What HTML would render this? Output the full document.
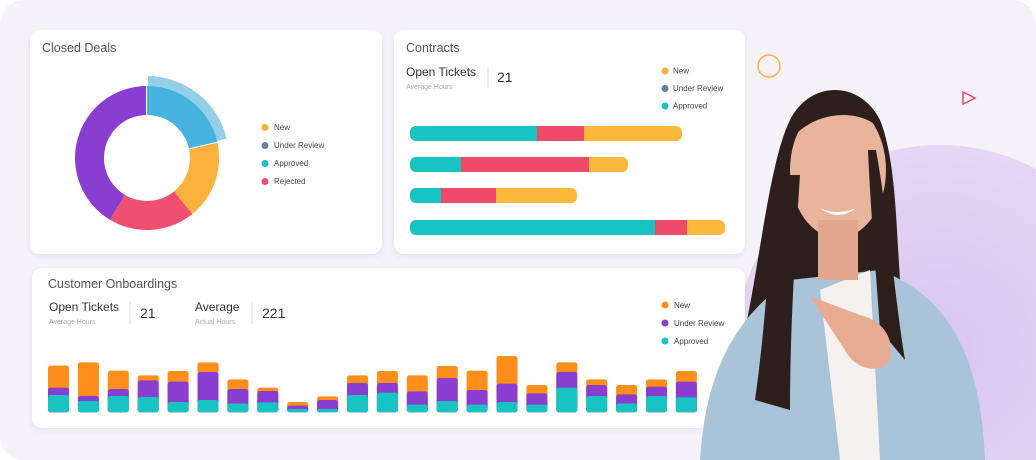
<!DOCTYPE html>
<html><head><meta charset="utf-8"><style>
html,body{margin:0;padding:0;width:1036px;height:460px;overflow:hidden;background:#fff;font-family:"Liberation Sans",sans-serif}
svg{display:block}
</style></head><body>
<svg width="1036" height="460" viewBox="0 0 1036 460" xmlns="http://www.w3.org/2000/svg" font-family="Liberation Sans, sans-serif">
<defs>
<filter id="sh" x="-10%" y="-10%" width="120%" height="130%"><feDropShadow dx="0" dy="2" stdDeviation="3" flood-color="#b8a8d0" flood-opacity="0.25"/></filter>
<radialGradient id="blob" cx="0.5" cy="0.5" r="0.5"><stop offset="0" stop-color="#d9c6ef"/><stop offset="1" stop-color="#e4d6f4"/></radialGradient>
</defs>
<rect x="0" y="0" width="1036" height="460" rx="24" fill="#f5f2fa"/>
<circle cx="940" cy="350" r="205" fill="url(#blob)"/>
<circle cx="769" cy="66" r="11" fill="none" stroke="#fbb13c" stroke-width="1.5"/>
<path d="M963 92 L975 98 L963 104 Z" fill="none" stroke="#ee4b6a" stroke-width="1.5"/>

<!-- Closed Deals -->
<rect x="30" y="30" width="352" height="224" rx="10" fill="#fff" filter="url(#sh)"/>
<text x="42" y="52" font-size="12.5" fill="#555">Closed Deals</text>
<g transform="translate(147,158)">
<path d="M70.2,-16.2 A72,72 0 0 1 45.3,56 L27,33.4 A43,43 0 0 0 41.9,-9.7 Z" fill="#fbb13c"/>
<path d="M45.3,56 A72,72 0 0 1 -37.1,61.7 L-22.1,36.9 A43,43 0 0 0 27,33.4 Z" fill="#ef5070"/>
<path d="M-37.1,61.7 A72,72 0 0 1 0,-72 L0,-43 A43,43 0 0 0 -22.1,36.9 Z" fill="#8a3dd1"/>
<path d="M0,-83 A83,83 0 0 1 80.9,-18.7 L41.9,-9.7 A43,43 0 0 0 0,-43 Z" fill="#93cfe8" stroke="#fff" stroke-width="2"/>
<path d="M0,-72 A72,72 0 0 1 70.2,-16.2 L41.9,-9.7 A43,43 0 0 0 0,-43 Z" fill="#44b3e0"/>
</g>
<g font-size="8" fill="#444">
<circle cx="265" cy="127.5" r="3.5" fill="#fbb13c"/><text x="274" y="130">New</text>
<circle cx="265" cy="145.5" r="3.5" fill="#6b7f98"/><text x="274" y="148">Under Review</text>
<circle cx="265" cy="163.5" r="3.5" fill="#17c3c3"/><text x="274" y="166">Approved</text>
<circle cx="265" cy="181.5" r="3.5" fill="#ef5070"/><text x="274" y="184">Rejected</text>
</g>

<!-- Contracts -->
<rect x="394" y="30" width="351" height="224" rx="10" fill="#fff" filter="url(#sh)"/>
<text x="406" y="52" font-size="12.5" fill="#555">Contracts</text>
<text x="406" y="76" font-size="12" fill="#333">Open Tickets</text>
<text x="406" y="89" font-size="7" fill="#aaa">Average Hours</text>
<line x1="488" y1="67" x2="488" y2="88" stroke="#ddd"/>
<text x="497" y="82" font-size="14" fill="#333">21</text>
<g font-size="8" fill="#444">
<circle cx="665" cy="71" r="3.5" fill="#fbb13c"/><text x="673" y="73.5">New</text>
<circle cx="665" cy="88.5" r="3.5" fill="#6b7f98"/><text x="673" y="91">Under Review</text>
<circle cx="665" cy="106" r="3.5" fill="#17c3c3"/><text x="673" y="108.5">Approved</text>
</g>
<g>
<rect x="410" y="126" width="272" height="15" rx="6" fill="#fbb93c"/><rect x="537" y="126" width="47" height="15" fill="#ee4b6a"/><rect x="410" y="126" width="127" height="15" rx="6" fill="#17c3c3"/><rect x="530" y="126" width="7" height="15" fill="#17c3c3"/>
<rect x="410" y="157" width="218" height="15" rx="6" fill="#fbb93c"/><rect x="461" y="157" width="128" height="15" fill="#ee4b6a"/><rect x="410" y="157" width="51" height="15" rx="6" fill="#17c3c3"/><rect x="455" y="157" width="6" height="15" fill="#17c3c3"/>
<rect x="410" y="188" width="167" height="15" rx="6" fill="#fbb93c"/><rect x="441" y="188" width="55" height="15" fill="#ee4b6a"/><rect x="410" y="188" width="31" height="15" rx="6" fill="#17c3c3"/><rect x="435" y="188" width="6" height="15" fill="#17c3c3"/>
<rect x="410" y="220" width="315" height="15" rx="6" fill="#fbb93c"/><rect x="655" y="220" width="32" height="15" fill="#ee4b6a"/><rect x="410" y="220" width="245" height="15" rx="6" fill="#17c3c3"/><rect x="645" y="220" width="10" height="15" fill="#17c3c3"/>
</g>

<!-- Customer Onboardings -->
<rect x="32" y="268" width="713" height="160" rx="10" fill="#fff" filter="url(#sh)"/>
<text x="48" y="288" font-size="12.5" fill="#555">Customer Onboardings</text>
<text x="49" y="311" font-size="12" fill="#333">Open Tickets</text>
<text x="49" y="324" font-size="7" fill="#aaa">Average Hours</text>
<line x1="130" y1="302" x2="130" y2="324" stroke="#ddd"/>
<text x="140" y="318" font-size="14" fill="#333">21</text>
<text x="195" y="311" font-size="12" fill="#333">Average</text>
<text x="195" y="324" font-size="7" fill="#aaa">Actual Hours</text>
<line x1="252" y1="302" x2="252" y2="324" stroke="#ddd"/>
<text x="262" y="318" font-size="14" fill="#333">221</text>
<g font-size="8" fill="#444">
<circle cx="665" cy="305" r="3.5" fill="#ff8f1a"/><text x="674" y="308">New</text>
<circle cx="665" cy="323" r="3.5" fill="#8a3dd1"/><text x="674" y="326">Under Review</text>
<circle cx="665" cy="341" r="3.5" fill="#17c3c3"/><text x="674" y="344">Approved</text>
</g>
<g id="bars"></g>

<!-- Woman approximation -->
<g>
<path d="M790 120 C770 160 760 260 745 330 C735 380 725 420 730 460 L920 460 L905 330 C895 260 900 170 880 120 C860 80 810 80 790 120 Z" fill="#2d1f1b"/>
<path d="M700 460 C705 380 730 320 790 280 L880 270 C930 290 980 330 985 460 Z" fill="#a9c4d8"/>
<path d="M820 290 L870 270 L880 460 L840 460 Z" fill="#f4f1ee"/>
<ellipse cx="838" cy="170" rx="48" ry="68" fill="#e9b49c"/>
<path d="M790 130 C800 90 870 85 885 135 C870 110 820 105 790 140 Z" fill="#2d1f1b"/>
<rect x="818" y="220" width="40" height="60" fill="#e2a78e"/>
<path d="M775 175 C770 250 765 330 755 400 L790 410 C790 330 795 250 800 175 Z" fill="#2d1f1b"/>
<path d="M876 150 C890 230 895 300 905 360 L880 330 C875 260 870 200 868 150 Z" fill="#2d1f1b"/>
<path d="M812 297 L860 315 C880 320 895 335 890 360 C880 375 855 370 845 350 L812 300 Z" fill="#e6ab90"/>
<path d="M820 208 Q838 222 856 208 Q838 216 820 208 Z" fill="#fff"/>
</g>
</svg>
<script>
var d=[[77,143,165],[67,168,183],[92,147,168],[106,121,171],[93,125,186],[67,96,180],[118,147,190],[143,153,187],[186,197,207],[169,180,207],[106,129,165],[93,129,158],[106,154,194],[78,114,183],[92,150,194],[48,131,186],[135,160,194],[67,96,143],[118,135,168],[135,163,190],[118,140,168],[93,125,172]];
var g=document.getElementById('bars'),s='';
d.forEach(function(b,i){var x=48+i*29.9,y=function(v){return 340+v/3},bot=412.3;
s+='<rect x="'+x+'" y="'+y(b[0])+'" width="21" height="'+(bot-y(b[0]))+'" rx="2.5" fill="#ff8f1a"/>';
s+='<rect x="'+x+'" y="'+y(b[1])+'" width="21" height="'+(bot-y(b[1]))+'" rx="2.5" fill="#8a3dd1"/>';
s+='<rect x="'+x+'" y="'+y(b[2])+'" width="21" height="'+(bot-y(b[2]))+'" rx="2.5" fill="#17c3c3"/>';});
g.innerHTML=s;
</script>
</body></html>
